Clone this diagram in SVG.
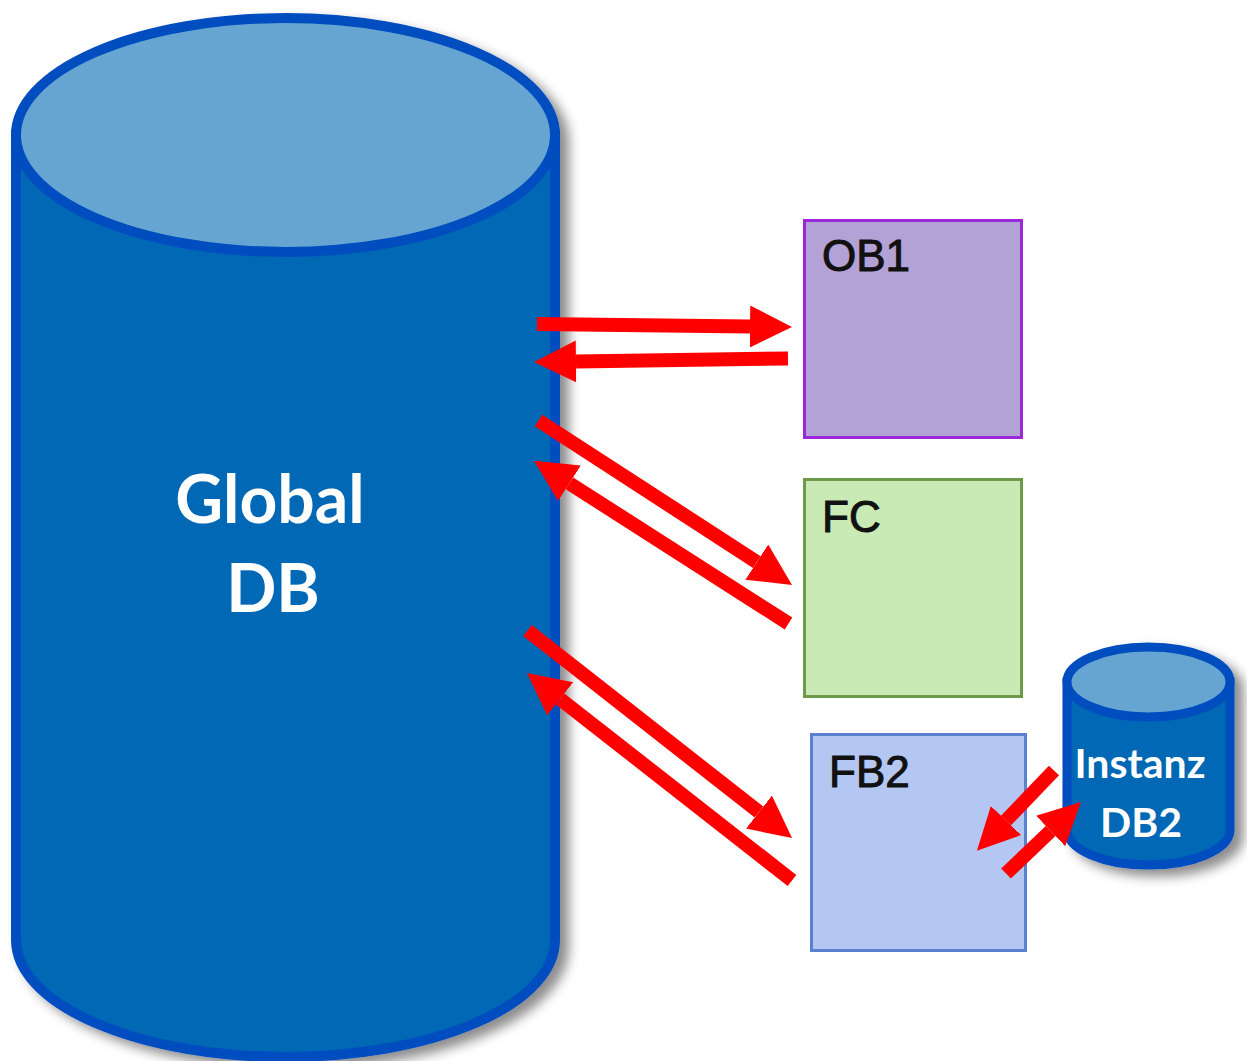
<svg xmlns="http://www.w3.org/2000/svg" width="1247" height="1061" viewBox="0 0 1247 1061">
<style>
.db-body{fill:#0267B4;stroke:#014DBF;}
.db-top{fill:#66A5D1;stroke:#014DBF;}
.dbtext{font-family:Lato,"Open Sans",sans-serif;font-weight:700;fill:#FFFFFF;text-anchor:middle;}
.boxtext{font-family:"Liberation Sans",Arial,sans-serif;font-size:44px;fill:#111111;stroke:#111111;stroke-width:1;}
.arrow{stroke:#FF0000;stroke-width:14;fill:none;stroke-linecap:butt;marker-end:url(#head);}
</style>
<defs>
<filter id="shadow" x="-10%" y="-10%" width="130%" height="130%">
<feDropShadow dx="9" dy="7" stdDeviation="6" flood-color="#000000" flood-opacity="0.45"/>
</filter>
<marker id="head" viewBox="0 0 3 3" refX="0" refY="1.5" markerWidth="3" markerHeight="3" orient="auto" markerUnits="strokeWidth">
<path d="M0,0 L3,1.5 L0,3 Z" fill="#FF0000"/>
</marker>
</defs>
<rect width="1247" height="1061" fill="#FFFFFF"/>

<g id="global-db">
<g filter="url(#shadow)">
<path class="db-body" stroke-width="10" d="M16,135 L16,940 A269.5,117 0 0 0 555,940 L555,135 Z"/>
<ellipse class="db-top" stroke-width="10" cx="285.5" cy="135" rx="269.5" ry="117"/>
</g>
<text class="dbtext" font-size="66" x="270" y="523">Global</text>
<text class="dbtext" font-size="66" x="273" y="612">DB</text>
</g>

<g id="ob1">
<rect x="804.5" y="220.5" width="217" height="217" fill="#B3A2D6" stroke="#9B27DB" stroke-width="3"/>
<text class="boxtext" x="822" y="271">OB1</text>
</g>

<g id="fc">
<rect x="804.5" y="479.5" width="217" height="217" fill="#C9EAB4" stroke="#6B9B4B" stroke-width="3"/>
<text class="boxtext" x="822" y="532">FC</text>
</g>

<g id="fb2">
<rect x="811.5" y="734.5" width="214" height="216" fill="#B3C7F2" stroke="#5B80CF" stroke-width="3"/>
<text class="boxtext" x="829" y="787">FB2</text>
</g>

<g id="instanz-db2">
<g filter="url(#shadow)">
<path class="db-body" stroke-width="9" d="M1067,682 L1067,830 A81.5,35 0 0 0 1230,830 L1230,682 Z"/>
<ellipse class="db-top" stroke-width="9" cx="1148.5" cy="682" rx="81.5" ry="35"/>
</g>
<text class="dbtext" font-size="41" x="1140" y="778">Instanz</text>
<text class="dbtext" font-size="41" x="1141" y="837">DB2</text>
</g>

<g id="connectors">
<line class="arrow" x1="537" y1="324" x2="750" y2="326.5"/>
<line class="arrow" x1="788" y1="358.5" x2="576" y2="361.4"/>
<line class="arrow" x1="538.5" y1="420.5" x2="756.8" y2="562.1"/>
<line class="arrow" x1="788.5" y1="623.5" x2="569.4" y2="483.3"/>
<line class="arrow" x1="527.5" y1="630.5" x2="759" y2="812.1"/>
<line class="arrow" x1="792" y1="880.5" x2="560.1" y2="698.9"/>
<line class="arrow" x1="1054" y1="770.5" x2="1006" y2="820.5"/>
<line class="arrow" x1="1006" y1="873.5" x2="1050.6" y2="831"/>
</g>
</svg>
